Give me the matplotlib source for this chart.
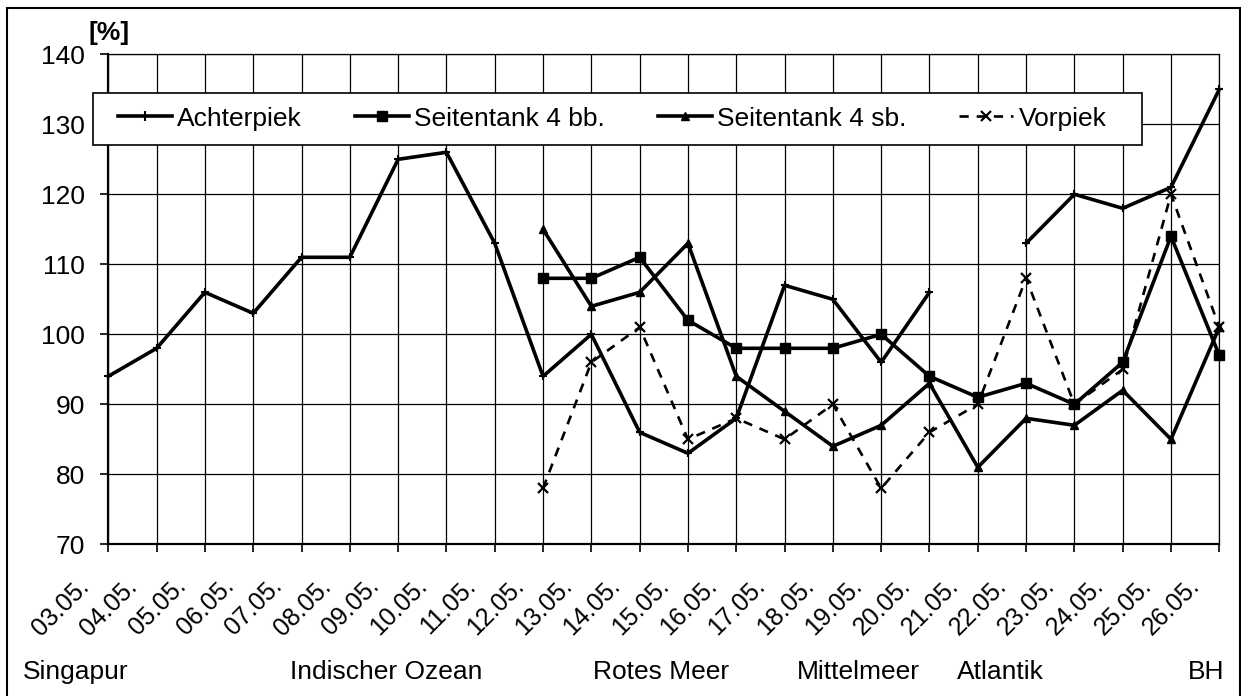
import numpy as np
import matplotlib
matplotlib.use("Agg")
import matplotlib.pyplot as plt
from matplotlib.patches import Rectangle
from matplotlib.lines import Line2D
from matplotlib import transforms

plt.rcParams['font.family'] = ['Liberation Sans', 'DejaVu Sans']

nan = np.nan
dates = ['03.05.', '04.05.', '05.05.', '06.05.', '07.05.', '08.05.', '09.05.', '10.05.',
         '11.05.', '12.05.', '13.05.', '14.05.', '15.05.', '16.05.', '17.05.', '18.05.',
         '19.05.', '20.05.', '21.05.', '22.05.', '23.05.', '24.05.', '25.05.', '26.05.']
achterpiek = [94, 98, 106, 103, 111, 111, 125, 126, 113, 94, 100, 86, 83, 88, 107, 105,
              96, 106, nan, 113, 120, 118, 121, 135]
seitentank_bb = [nan, nan, nan, nan, nan, nan, nan, nan, nan, 108, 108, 111, 102, 98, 98, 98,
                 100, 94, 91, 93, 90, 96, 114, 97]
seitentank_sb = [nan, nan, nan, nan, nan, nan, nan, nan, nan, 115, 104, 106, 113, 94, 89, 84,
                 87, 93, 81, 88, 87, 92, 85, 101]
vorpiek = [nan, nan, nan, nan, nan, nan, nan, nan, nan, 78, 96, 101, 85, 88, 85, 90,
           78, 86, 90, 108, 90, 95, 120, 101]
series_labels = ['Achterpiek', 'Seitentank 4 bb.', 'Seitentank 4 sb.', 'Vorpiek']
y_ticks = [70, 80, 90, 100, 110, 120, 130, 140]
locations = ['Singapur', 'Indischer Ozean', 'Rotes Meer', 'Mittelmeer', 'Atlantik', 'BH']
location_px = [23, 290, 593, 797, 957, 1188]   # layout: left edge in pixels

W, H = 1241, 696
fig = plt.figure(figsize=(W / 100, H / 100), dpi=100)
fig.patch.set_facecolor('white')

x0, x1, ytop, ybot = 108.3, 1219.3, 54.3, 544.3
ax = fig.add_axes([x0 / W, 1 - ybot / H, (x1 - x0) / W, (ybot - ytop) / H])

x = np.arange(len(dates))
lw = 2.6
vlw = 1.9
vdash = (0, (3.5, 3))
ax.plot(x, achterpiek, color='black', lw=lw, marker='+', ms=6, mew=1.5, clip_on=False, zorder=3)
ax.plot(x, seitentank_bb, color='black', lw=lw, marker='s', ms=7, clip_on=False, zorder=3)
ax.plot(x, seitentank_sb, color='black', lw=lw, marker='^', ms=6, clip_on=False, zorder=3)
ax.plot(x, vorpiek, color='black', lw=vlw, ls=vdash, marker='x', ms=6.5, mew=1.6,
        clip_on=False, zorder=3)

ax.set_xlim(0, len(dates) - 1)
ax.set_ylim(y_ticks[0], y_ticks[-1])
ax.set_yticks(y_ticks)
ax.set_xticks(x)
ax.set_xticklabels([''] * len(x))
ax.grid(True, color='black', lw=0.9)
ax.set_axisbelow(True)
for s in ['top', 'right']:
    ax.spines[s].set_linewidth(0.9)
for s in ['left', 'bottom']:
    ax.spines[s].set_linewidth(1.6)
ax.tick_params(axis='y', direction='out', length=5.8, width=1.2, pad=10.8, labelsize=19)
ax.tick_params(axis='x', direction='out', length=5.8, width=1.2)

off = transforms.offset_copy(ax.get_xaxis_transform(), fig=fig, x=-18 * 0.72, y=-43 * 0.72,
                             units='points')
for xi, d in zip(x, dates):
    ax.text(xi, 0, d, transform=off, rotation=45, rotation_mode='anchor', ha='right',
            va='baseline', fontsize=18)

# legend frame and legend
fig.add_artist(Rectangle((93 / W, 1 - 144.5 / H), (1142 - 93) / W, (144.5 - 92.7) / H,
                         transform=fig.transFigure, facecolor='white', edgecolor='black',
                         lw=1.2, zorder=4))
handles = [
    Line2D([], [], color='black', lw=lw, marker='+', ms=7, mew=1.5),
    Line2D([], [], color='black', lw=lw, marker='s', ms=7),
    Line2D([], [], color='black', lw=lw, marker='^', ms=6),
    Line2D([], [], color='black', lw=vlw, ls=vdash, marker='x', ms=6.5, mew=1.6),
]
leg = fig.legend(handles, series_labels, loc='center left',
                 bbox_to_anchor=(118 / W, 1 - 118.6 / H), ncol=4, frameon=False,
                 borderpad=0, borderaxespad=0, handlelength=2.05, handletextpad=0.2,
                 columnspacing=2.0, fontsize=19)
leg.set_zorder(5)

fig.text(88 / W, 1 - 40 / H, '[%]', fontsize=19, fontweight='bold', va='baseline', ha='left')

for name, px in zip(locations, location_px):
    fig.text(px / W, 1 - 679 / H, name, fontsize=19, va='baseline', ha='left')

# outer border
fig.add_artist(Rectangle((7 / W, -0.02), (1239.5 - 7) / W, 1.02 - 8 / H,
                         transform=fig.transFigure, facecolor='none', edgecolor='black',
                         lw=1.5, zorder=6))

fig.savefig('out.png', dpi=100)
